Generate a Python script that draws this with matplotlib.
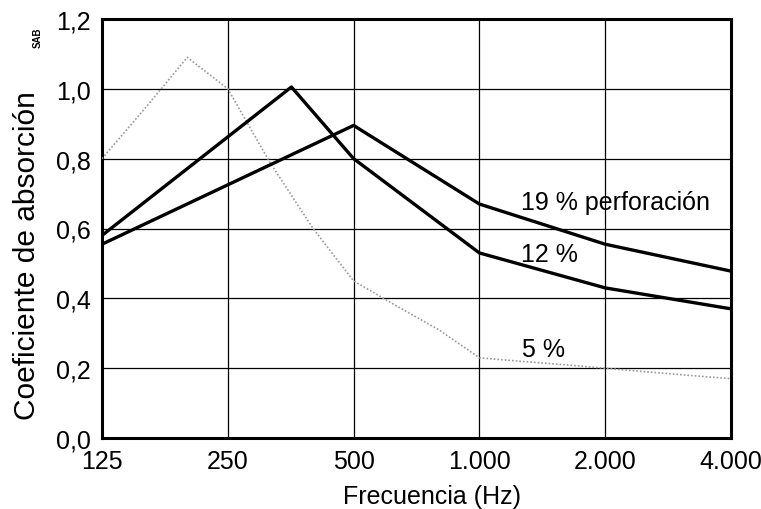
import matplotlib.pyplot as plt
from matplotlib.ticker import FixedLocator, NullLocator

plt.rcParams['font.family'] = ['Liberation Sans', 'DejaVu Sans']

# absorption curves for perforated panels
freq_5 = [125, 160, 200, 250, 315, 400, 500, 630, 800, 1000, 1250, 1600, 2000, 2500, 3150, 4000]
alpha_5 = [0.80, 0.95, 1.09, 1.00, 0.79, 0.60, 0.45, 0.38, 0.31, 0.23, 0.22, 0.21, 0.20, 0.19, 0.18, 0.17]

freq_12 = [125, 355, 500, 1000, 2000, 4000]
alpha_12 = [0.58, 1.005, 0.80, 0.53, 0.43, 0.37]

freq_19 = [125, 500, 1000, 2000, 4000]
alpha_19 = [0.555, 0.895, 0.67, 0.555, 0.478]

x_ticks = [125, 250, 500, 1000, 2000, 4000]
x_labels = ["125", "250", "500", "1.000", "2.000", "4.000"]
y_ticks = [0.0, 0.2, 0.4, 0.6, 0.8, 1.0, 1.2]
y_labels = ["0,0", "0,2", "0,4", "0,6", "0,8", "1,0", "1,2"]

fig = plt.figure(figsize=(7.61, 5.10), dpi=100)
ax = fig.add_axes([0.134, 0.139, 0.8266, 0.822])

ax.plot(freq_5, alpha_5, color="#999999", lw=1.2, ls=(0, (1, 1.2)), zorder=3)
ax.plot(freq_12, alpha_12, color="black", lw=2.4, zorder=4)
ax.plot(freq_19, alpha_19, color="black", lw=2.4, zorder=4)

ax.set_xscale("log")
ax.set_xlim(125, 4000)
ax.set_ylim(0, 1.2)
ax.xaxis.set_major_locator(FixedLocator(x_ticks))
ax.xaxis.set_minor_locator(NullLocator())
ax.set_xticklabels(x_labels)
ax.set_yticks(y_ticks)
ax.set_yticklabels(y_labels)
ax.tick_params(length=0, labelsize=18)
ax.tick_params(axis="x", pad=8)
ax.tick_params(axis="y", pad=8)
ax.grid(True, color="black", lw=0.9)
for s in ax.spines.values():
    s.set_linewidth(2.2)

ax.set_xlabel("Frecuencia (Hz)", fontsize=18)
ax.xaxis.set_label_coords(0.525, -0.110)
ax.set_ylabel("Coeficiente de absorción", fontsize=21.5)
ax.yaxis.set_label_coords(-0.097, 0.439)
fig.text(0.050, 0.925, "SAB", rotation=90, fontsize=7, fontweight="bold",
         ha="center", va="center")

ax.text(1260, 0.656, "19 % perforación", fontsize=18, va="baseline")
ax.text(1260, 0.507, "12 %", fontsize=18, va="baseline")
ax.text(1265, 0.235, "5 %", fontsize=18, va="baseline")

fig.savefig("out.png", dpi=100)
